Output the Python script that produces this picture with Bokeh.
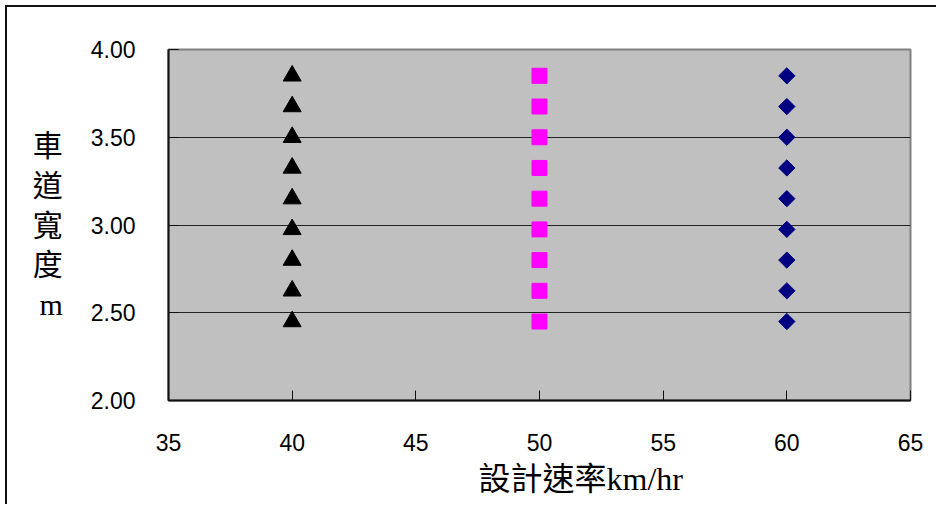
from bokeh.plotting import figure
from bokeh.models import Title, FixedTicker, NumeralTickFormatter, Range1d
from bokeh.embed import file_html
from bokeh.resources import INLINE

# ---- data ----
speed_40 = [40] * 9
speed_50 = [50] * 9
speed_60 = [60] * 9
lane_widths = [2.45, 2.625, 2.80, 2.975, 3.15, 3.325, 3.50, 3.675, 3.85]
x_ticks = [35, 40, 45, 50, 55, 60, 65]
y_ticks = [2.0, 2.5, 3.0, 3.5, 4.0]
grid_lines = [2.5, 3.0, 3.5]
x_title = "設計速率km/hr"
y_title = "車\n道\n寬\n度\nm"

TICK_FONT = "Liberation Sans, Arial"
LABEL_FONT = "Liberation Serif, Noto Sans CJK TC"

p = figure(width=931, height=499, x_range=Range1d(35, 65), y_range=Range1d(2, 4),
           output_backend="svg", toolbar_location=None,
           min_border_left=161, min_border_top=42, min_border_right=28, min_border_bottom=106)
p.margin = (5, 0, 0, 5)
p.styles = {"border-top": "2px solid #111", "border-left": "2px solid #111"}

p.background_fill_color = "#C0C0C0"
p.border_fill_color = "white"
p.outline_line_color = "#808080"
p.outline_line_width = 2

# grid
p.xgrid.visible = False
p.ygrid.ticker = FixedTicker(ticks=grid_lines)
p.ygrid.grid_line_color = "#222222"
p.ygrid.grid_line_width = 1

# axes
for ax in (p.xaxis[0], p.yaxis[0]):
    ax.axis_line_color = "#111111"
    ax.axis_line_width = 2
    ax.major_tick_in = 10
    ax.major_tick_out = 0
    ax.major_tick_line_color = "#111111"
    ax.major_tick_line_width = 1
    ax.minor_tick_line_color = None
    ax.major_label_text_font = TICK_FONT
    ax.major_label_text_font_size = "23px"
    ax.major_label_text_color = "black"

p.xaxis.ticker = FixedTicker(ticks=x_ticks)
p.yaxis.ticker = FixedTicker(ticks=y_ticks)
p.yaxis.formatter = NumeralTickFormatter(format="0.00")
p.xaxis.major_label_standoff = 33
p.yaxis.major_label_standoff = 33

p.yaxis.axis_label = y_title
p.yaxis.axis_label_orientation = "horizontal"
p.yaxis.axis_label_text_font = LABEL_FONT
p.yaxis.axis_label_text_font_size = "30px"
p.yaxis.axis_label_text_font_style = "normal"
p.yaxis.axis_label_text_line_height = 1.21
p.yaxis.axis_label_standoff = 25
p.yaxis.axis_label_text_color = "black"

t = Title(text=x_title, align="left", offset=310, text_font=LABEL_FONT,
          text_font_size="32px", text_font_style="normal", text_color="black", standoff=11)
p.add_layout(t, "below")

# markers
p.scatter(speed_40, lane_widths, marker="triangle", size=18, color="black")
p.scatter(speed_50, lane_widths, marker="square", size=15, color="#FF00FF")
p.scatter(speed_60, lane_widths, marker="square", angle=0.785398, size=11.5, color="#000080")

open("out.html", "w").write(file_html(p, INLINE))
